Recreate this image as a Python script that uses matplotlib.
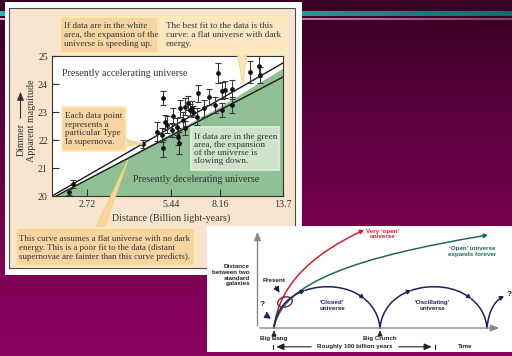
import numpy as np
import matplotlib
matplotlib.use("Agg")
import matplotlib.pyplot as plt
from matplotlib.patches import Rectangle, Polygon, Ellipse, FancyArrowPatch
from matplotlib.path import Path
from matplotlib.colors import LinearSegmentedColormap
from matplotlib.bezier import split_de_casteljau

plt.rcParams["font.family"] = ["Liberation Serif", "DejaVu Serif"]

# ---------------- Type Ia supernova Hubble diagram ----------------
sn_distance = [8.04, 10.43, 11.27, 11.33, 5.08, 6.78, 7.44, 8.26, 8.49, 8.97,
               7.82, 8.26, 8.97, 7.14, 5.86, 6.11, 6.27, 6.36, 6.54, 6.72,
               6.02, 5.70, 5.25, 5.18, 4.84, 5.47, 5.78, 6.11, 5.11, 5.81,
               4.33, 2.43, 2.35, 5.04, 5.53, 6.45]
sn_magnitude = [24.40, 24.43, 24.64, 24.32, 23.49, 23.67, 23.54, 23.76, 23.79, 23.81,
                23.25, 23.07, 23.25, 23.13, 23.13, 23.19, 23.31, 23.07, 23.01, 22.83,
                22.71, 22.48, 22.54, 22.65, 22.30, 22.36, 22.12, 22.42, 21.70, 21.89,
                21.86, 20.43, 20.15, 22.18, 22.86, 23.13]
sn_error = [0.36, 0.40, 0.40, 0.30, 0.25, 0.30, 0.28, 0.30, 0.30, 0.35,
            0.30, 0.25, 0.30, 0.30, 0.30, 0.30, 0.25, 0.20, 0.20, 0.30,
            0.30, 0.30, 0.30, 0.25, 0.35, 0.25, 0.30, 0.25, 0.30, 0.40,
            0.15, 0.15, 0.10, 0.25, 0.30, 0.25]

fit_distance = [2.04, 13.7]          # flat universe with dark energy
fit_magnitude = [20.0, 24.75]
nodark_distance = [2.11, 13.7]       # flat universe without dark energy
nodark_magnitude = [20.0, 24.25]
green_distance = [2.11, 8.0, 13.7]   # border of the decelerating region
green_magnitude = [20.0, 23.15, 24.57]

dist_ticks = [2.72, 5.44, 8.16, 13.7]
dist_ticklabels = ["2.72", "5.44", "8.16", "13.7"]
mag_ticks = [20, 21, 22, 23, 24, 25]

# ---------------- expansion-history schematic ----------------
# time runs to the right, separation of galaxies upwards (diagram units)
very_open_ctrl = [(67, 24), (72, 70), (110, 100), (157, 122)]
open_ctrl = [(67, 24), (75, 70), (150, 95), (281, 117)]
closed_ctrl = [(67, 24), (72, 79), (168, 79), (173, 24)]
oscill_ctrl = [(173, 24), (178, 79), (275, 79), (280, 24)]
next_ctrl = [(280, 24), (282, 45), (290, 52), (297, 56)]
arrow_params = [0.35, 0.77]

W, H = 512, 356
fig = plt.figure(figsize=(5.12, 3.56), dpi=100)


def frac(x0, y0, x1, y1):
    return [x0 / W, 1 - y1 / H, (x1 - x0) / W, (y1 - y0) / H]


# slide background
bg = fig.add_axes([0, 0, 1, 1])
grad = np.linspace(0, 1, 256).reshape(-1, 1)
slide_cmap = LinearSegmentedColormap.from_list(
    "slide", ["#380024", "#5a003e", "#7a0052", "#8a005c"])
bg.imshow(grad, extent=(0, W, H, 0), cmap=slide_cmap, aspect="auto")
hgrad = np.linspace(0, 1, 256).reshape(1, -1)
teal_cmap = LinearSegmentedColormap.from_list("teal", ["#24b8b6", "#1aa6a4", "#0f6b6a"])
pink_cmap = LinearSegmentedColormap.from_list("pink", ["#e7a6d6", "#c88ab8", "#7a4a70"])
bg.imshow(hgrad, extent=(0, W, 16, 11.5), cmap=teal_cmap, aspect="auto")
bg.imshow(hgrad, extent=(0, W, 20.5, 18.5), cmap=pink_cmap, aspect="auto")
bg.add_patch(Rectangle((5, 2), 297, 273, fc="white", ec="none"))
bg.add_patch(Rectangle((9, 8), 286, 260, fc="#f9e4cf", ec="#4a4a4a", lw=0.8))
bg.set_xlim(0, W)
bg.set_ylim(H, 0)
bg.axis("off")

# supernova plot
ax = fig.add_axes(frac(52, 56, 283, 196))
ax.set_zorder(2)
ax.set_xscale("log")
ax.set_xlim(2.04, 13.7)
ax.set_ylim(20, 25)
ax.fill_between(green_distance, green_magnitude, 20, color="#8fc095", lw=0)
ax.plot(fit_distance, fit_magnitude, color="#1a1a1a", lw=1.0)
ax.plot(nodark_distance, nodark_magnitude, color="#1a1a1a", lw=1.0)
ax.errorbar(sn_distance, sn_magnitude, yerr=sn_error, fmt="o", ms=2.4,
            color="#111111", ecolor="#3a3a3a", elinewidth=0.8, capsize=2,
            capthick=0.8)
ax.set_xticks(dist_ticks)
ax.set_xticklabels(dist_ticklabels)
ax.minorticks_off()
ax.set_yticks(mag_ticks)
ax.tick_params(direction="in", length=5, width=0.8, color="#333333",
               labelsize=7.2, labelcolor="#333333", pad=3)
for s in ax.spines.values():
    s.set_color("#333333")
    s.set_linewidth(0.8)

# overlay for labels and callouts
ov = fig.add_axes([0, 0, 1, 1])
ov.set_zorder(3)
ov.patch.set_alpha(0)
ov.set_xlim(0, W)
ov.set_ylim(H, 0)
ov.axis("off")

txt_color = "#333333"
ov.text(62, 73, "Presently accelerating universe", fontsize=7.2, color=txt_color,
        va="center", ha="left")
ov.text(133, 179, "Presently decelerating universe", fontsize=7.2, color=txt_color,
        va="center", ha="left")
ov.text(171, 218, "Distance (Billion light-years)", fontsize=7.2, color=txt_color,
        va="center", ha="center")
ov.text(31, 121, "Apparent magnitude", fontsize=7.2, color=txt_color,
        va="center", ha="center", rotation=90)
ov.text(21, 139, "Dimmer", fontsize=7.2, color=txt_color,
        va="center", ha="center", rotation=90)
ov.annotate("", xy=(20.5, 89), xytext=(20.5, 121),
            arrowprops=dict(arrowstyle="-|>,head_length=0.5,head_width=0.2",
                            color=txt_color, lw=0.8))

orange = "#f7d4a2"
cream = "#fbe6c3"
yellow_edge = "#fbeeb0"

# pointers (drawn first so the boxes sit on top)
ov.add_patch(Polygon([(237, 52), (247, 52), (243, 84)], closed=True,
                     fc=cream, ec="#f0d873", lw=0.7))
ov.add_patch(Polygon([(125, 139), (125, 146), (143, 144)], closed=True,
                     fc=orange, ec="#f0d873", lw=0.7))
ov.add_patch(Polygon([(95, 229), (104, 229), (128, 160)], closed=True,
                     fc=orange, ec="#f0d873", lw=0.7))

ov.add_patch(Rectangle((60, 17), 98, 36, fc=orange, ec=yellow_edge, lw=1.2))
ov.text(64, 35, "If data are in the white\narea, the expansion of the\nuniverse is speeding up.",
        fontsize=6.6, color=txt_color, va="center", ha="left", linespacing=1.12)

ov.add_patch(Rectangle((162, 17), 124, 36, fc=cream, ec=yellow_edge, lw=1.2))
ov.text(166, 35, "The best fit to the data is this\ncurve: a flat universe with dark\nenergy.",
        fontsize=6.6, color=txt_color, va="center", ha="left", linespacing=1.12)

ov.add_patch(Rectangle((62, 107), 64, 44, fc=orange, ec=yellow_edge, lw=1.2))
ov.text(65, 129, "Each data point\nrepresents a\nparticular Type\nIa supernova.",
        fontsize=6.6, color=txt_color, va="center", ha="left", linespacing=1.1)

ov.add_patch(Rectangle((191, 127), 88, 43, fc="#cfe3cb", ec="#e3f0df", lw=1.2))
ov.text(194, 149, "If data are in the green\narea, the expansion\nof the universe is\nslowing down.",
        fontsize=6.6, color=txt_color, va="center", ha="left", linespacing=1.0)

ov.add_patch(Rectangle((16, 228), 179, 38, fc=orange, ec=yellow_edge, lw=1.2))
ov.text(19, 248, "This curve assumes a flat universe with no dark\n"
        "energy. This is a poor fit to the data (distant\n"
        "supernovae are fainter than this curve predicts).",
        fontsize=6.4, color=txt_color, va="center", ha="left", linespacing=1.15)

# expansion-history schematic
ax2 = fig.add_axes(frac(207, 226, 512, 352))
ax2.set_zorder(4)
ax2.set_xlim(0, 305)
ax2.set_ylim(0, 126)
ax2.set_facecolor("white")
for s in ax2.spines.values():
    s.set_visible(False)
ax2.set_xticks([])
ax2.set_yticks([])

sans = ["Liberation Sans", "DejaVu Sans"]
gray = "#8a8a8a"
navy = "#1e2160"
red = "#cc2229"
green = "#1f6a5c"
maroon = "#7a1f48"

ax2.annotate("", xy=(50.5, 123), xytext=(50.5, 23.5),
             arrowprops=dict(arrowstyle="-|>,head_length=0.5,head_width=0.2",
                             color=gray, lw=1.0))
ax2.annotate("", xy=(295, 24), xytext=(50, 24),
             arrowprops=dict(arrowstyle="-|>,head_length=0.5,head_width=0.2",
                             color=gray, lw=1.0))

codes4 = [Path.MOVETO, Path.CURVE4, Path.CURVE4, Path.CURVE4]


def bez_arrow(ctrl, color, head=True, lw=1.1):
    style = "-|>,head_length=2.2,head_width=1.2" if head else "-"
    p = FancyArrowPatch(path=Path(ctrl, codes4), arrowstyle=style,
                        color=color, lw=lw, mutation_scale=1,
                        shrinkA=0, shrinkB=0)
    ax2.add_patch(p)


def arch_with_arrows(ctrl, color):
    pts = np.array(ctrl, dtype=float)
    pieces = []
    done = 0.0
    rest = pts
    for t in arrow_params:
        left, rest = split_de_casteljau(rest, (t - done) / (1 - done))
        pieces.append(left)
        done = t
    for piece in pieces:
        bez_arrow([tuple(q) for q in piece], color, head=True)
    bez_arrow([tuple(q) for q in rest], color, head=False)


bez_arrow(very_open_ctrl, red)
bez_arrow(open_ctrl, green)
arch_with_arrows(closed_ctrl, navy)
arch_with_arrows(oscill_ctrl, navy)
bez_arrow(next_ctrl, navy)
ax2.annotate("", xy=(66.5, 32), xytext=(59, 42),
             arrowprops=dict(arrowstyle="-|>,head_length=0.35,head_width=0.18",
                             color=navy, lw=1.0, connectionstyle="arc3,rad=0.3"))

ax2.add_patch(Ellipse((78, 50), 15, 10, angle=15, fill=False, ec=maroon, lw=1.0))

small = dict(fontsize=4.5, fontweight="bold", family=sans)
ax2.text(43, 77, "Distance\nbetween two\nstandard\ngalaxies", ha="right", va="center",
         color="#222222", linespacing=1.25, **small)
ax2.text(67, 72, "Present", ha="center", va="center", color="#222222", **small)
ax2.annotate("", xy=(74, 57), xytext=(67, 68),
             arrowprops=dict(arrowstyle="-|>,head_length=0.35,head_width=0.18",
                             color="#222222", lw=0.8))
ax2.text(55, 47, "?", ha="center", va="center", color="#222222", fontsize=6,
         fontweight="bold", family=sans)
ax2.text(302, 57, "?", ha="center", va="center", color="#222222", fontsize=6,
         fontweight="bold", family=sans)
ax2.text(176, 118, "Very \u2018open\u2019\nuniverse", ha="center", va="center",
         color=red, linespacing=1.2, **small)
ax2.text(265, 100.5, "\u2018Open\u2019 universe\nexpands forever", ha="center",
         va="center", color=green, linespacing=1.2, **small)
ax2.text(125, 46.5, "\u2018Closed\u2019\nuniverse", ha="center", va="center",
         color=navy, linespacing=1.2, **small)
ax2.text(225, 46.5, "\u2018Oscillating\u2019\nuniverse", ha="center", va="center",
         color=navy, linespacing=1.2, **small)

for t_event, name in [(67, "Big Bang"), (173, "Big Crunch")]:
    ax2.annotate("", xy=(t_event, 24), xytext=(t_event, 17),
                 arrowprops=dict(arrowstyle="-|>,head_length=0.3,head_width=0.15",
                                 color="#222222", lw=0.7))
    ax2.text(t_event, 13.5, name, ha="center", va="center", color="#222222", **small)

ax2.plot([66, 66], [3, 7.5], color="#222222", lw=0.8)
ax2.plot([228, 228], [3, 7.5], color="#222222", lw=0.8)
ax2.annotate("", xy=(66.5, 5.2), xytext=(107, 5.2),
             arrowprops=dict(arrowstyle="-|>,head_length=0.45,head_width=0.2",
                             color="#222222", lw=0.8))
ax2.annotate("", xy=(227.5, 5.2), xytext=(189, 5.2),
             arrowprops=dict(arrowstyle="-|>,head_length=0.45,head_width=0.2",
                             color="#222222", lw=0.8))
ax2.text(148, 5.2, "Roughly 100 billion years", ha="center", va="center",
         color="#222222", **small)
ax2.text(258, 5.2, "Time", ha="center", va="center", color="#222222", **small)

fig.savefig("out.png", dpi=100)
